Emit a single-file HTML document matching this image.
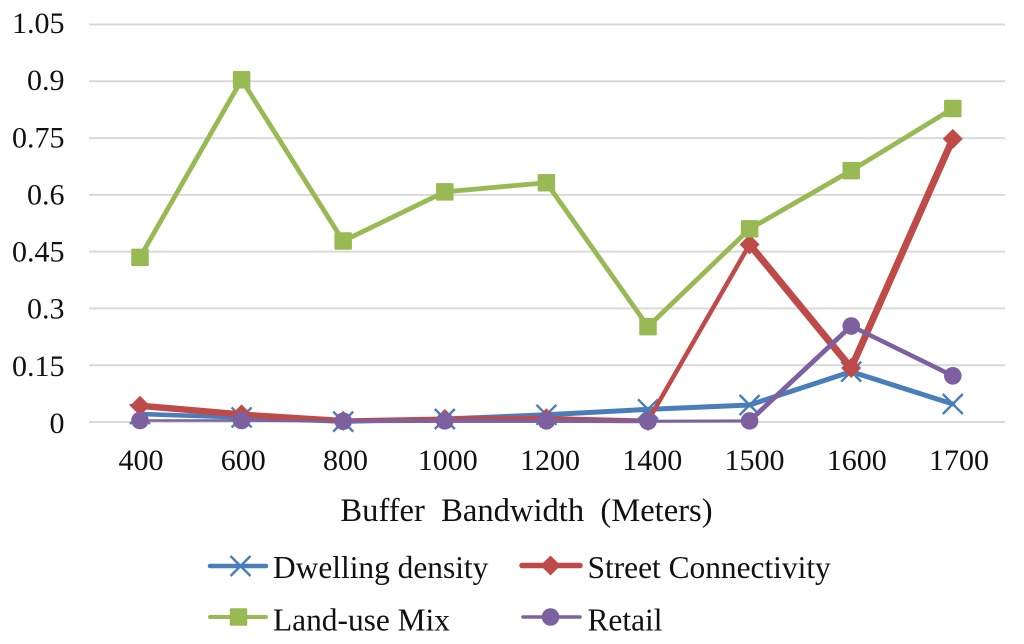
<!DOCTYPE html>
<html>
<head>
<meta charset="utf-8">
<style>
html,body{margin:0;padding:0;background:#fff;width:1024px;height:644px;overflow:hidden}
svg{display:block}
text{font-family:"Liberation Serif",serif;fill:#111}
</style>
</head>
<body>
<svg id="chart" width="1024" height="644" viewBox="0 0 1024 644" xmlns="http://www.w3.org/2000/svg"></svg>
<script>
const categories = ['400','600','800','1000','1200','1400','1500','1600','1700'];
const yTickValues = [0,0.15,0.3,0.45,0.6,0.75,0.9,1.05];
const yTickLabels = ['0','0.15','0.3','0.45','0.6','0.75','0.9','1.05'];
const dwellingDensity = [0.021,0.012,0.001,0.008,0.019,0.0335,0.045,0.133,0.0475];
const streetConnectivity = [0.043,0.02,0.003,0.008,0.01,0.003,0.469,0.1426,0.748];
const landUseMix = [0.435,0.904,0.478,0.608,0.632,0.252,0.51,0.664,0.828];
const retail = [0.004,0.004,0.002,0.003,0.003,0.002,0.003,0.2535,0.122];

const NS = 'http://www.w3.org/2000/svg';
const svg = document.getElementById('chart');
const plotLeft = 89, plotRight = 1005, yZero = 422, yTop = 24.5, yMax = 1.05;
function xScale(i){ return 140 + i * 101.6; }
function xLabelScale(i){ return 141 + i * 102.25; }
function yScale(v){ return yZero - (v / yMax) * (yZero - yTop); }
function yLabelScale(v){ return 433 - (v / yMax) * 400; }
function make(tag, attrs, parent){
  const el = document.createElementNS(NS, tag);
  for (const k in attrs) el.setAttribute(k, attrs[k]);
  (parent || svg).appendChild(el);
  return el;
}

yTickValues.forEach((v, i) => {
  const y = yScale(v);
  const line = make('line', {x1: plotLeft, x2: plotRight, y1: y, y2: y, stroke: '#d9d9d9', 'stroke-width': 2});
  
  
  const t = make('text', {x: 64.5, y: yLabelScale(v), 'text-anchor': 'end', 'font-size': 30});
  t.textContent = yTickLabels[i];
  
  
});

categories.forEach((c, i) => {
  const t = make('text', {x: xLabelScale(i), y: 470, 'text-anchor': 'middle', 'font-size': 30});
  t.textContent = c;
  
  
});

const xTitle = make('text', {x: 526.5, y: 521, 'text-anchor': 'middle', 'font-size': 32.6, style: 'white-space:pre'});
xTitle.textContent = 'Buffer  Bandwidth  (Meters)';



function drawMarker(kind, x, y, color, parent){
  if (kind === 'x') {
    make('path', {d: `M${x-10} ${y-10}L${x+10} ${y+10}M${x-10} ${y+10}L${x+10} ${y-10}`, stroke: color, 'stroke-width': 2.4, fill: 'none'}, parent);
  } else if (kind === 'diamond') {
    make('path', {d: `M${x} ${y-10}L${x+10} ${y}L${x} ${y+10}L${x-10} ${y}Z`, fill: color}, parent);
  } else if (kind === 'square') {
    make('rect', {x: x-8.75, y: y-8.75, width: 17.5, height: 17.5, rx: 1, fill: color}, parent);
  } else {
    make('circle', {cx: x, cy: y, r: 8.8, fill: color}, parent);
  }
}

function drawSeries(name, values, color, segmentWidths, kind){
  const g = make('g', {});
  
  
  for (let i = 0; i < values.length - 1; i++) {
    make('line', {x1: xScale(i), y1: yScale(values[i]), x2: xScale(i + 1), y2: yScale(values[i + 1]), stroke: color, 'stroke-width': segmentWidths[i], 'stroke-linecap': 'round'}, g);
  }
  values.forEach((v, i) => drawMarker(kind, xScale(i), yScale(v), color, g));
}

drawSeries('series-dwelling-density', dwellingDensity, '#4a7ebb', [4.5,4.5,4.5,5,5,5,5,5], 'x');
drawSeries('series-street-connectivity', streetConnectivity, '#be4b48', [6.5,6,5,5,4.5,4.5,7,7], 'diamond');
drawSeries('series-land-use-mix', landUseMix, '#98b954', [4.8,4.8,4.8,4.8,4.8,4.8,4.8,4.8], 'square');
drawSeries('series-retail', retail, '#7d60a0', [2.5,2.5,4,4,4,3,4.8,4.5], 'circle');

function legendEntry(name, label, color, width, kind, x1, x2, y, mx, tx, ty){
  const g = make('g', {});
  
  
  make('line', {x1: x1, x2: x2, y1: y, y2: y, stroke: color, 'stroke-width': width, 'stroke-linecap': 'round'}, g);
  drawMarker(kind, mx, y, color, g);
  const t = make('text', {x: tx, y: ty, 'font-size': 31.4}, g);
  t.textContent = label;
}
legendEntry('legend-dwelling-density', 'Dwelling density', '#4a7ebb', 4.5, 'x', 210, 266, 566, 240.5, 273, 578);
legendEntry('legend-street-connectivity', 'Street Connectivity', '#be4b48', 5.5, 'diamond', 522, 580, 565.5, 550.5, 587.5, 578);
legendEntry('legend-land-use-mix', 'Land-use Mix', '#98b954', 4, 'square', 210, 266, 617, 238.5, 273, 630.5);
legendEntry('legend-retail', 'Retail', '#7d60a0', 3.5, 'circle', 523, 580, 617, 550.5, 587.5, 630.5);
</script>
</body>
</html>
